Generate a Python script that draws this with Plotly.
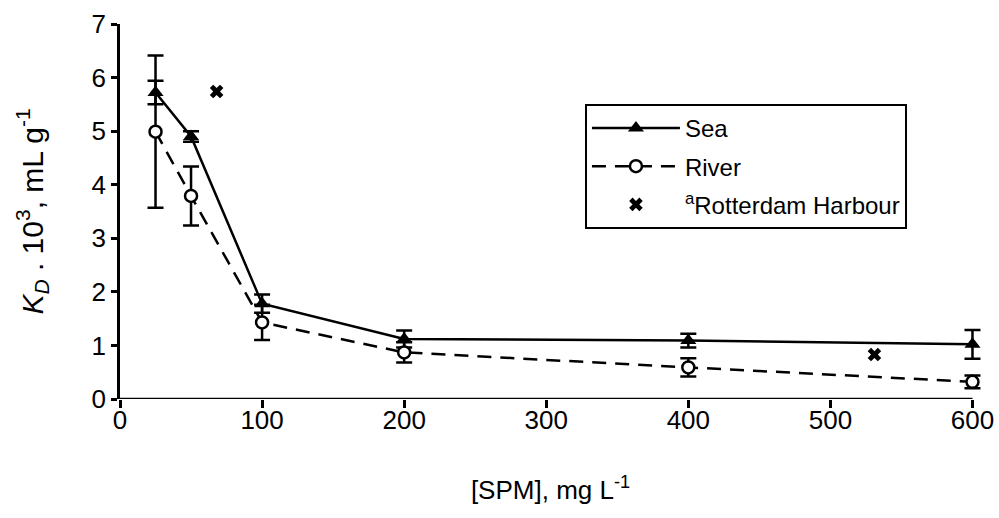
import plotly.graph_objects as go

# Suspended particulate matter concentration, mg/L
spm = [25, 50, 100, 200, 400, 600]

# Distribution coefficient K_D (x10^3 mL/g) with standard deviations
sea_kd = [5.72, 4.90, 1.78, 1.12, 1.09, 1.02]
sea_err = [0.22, 0.10, 0.17, 0.16, 0.13, 0.27]

river_kd = [4.99, 3.79, 1.43, 0.87, 0.59, 0.32]
river_err = [1.42, 0.55, 0.33, 0.19, 0.17, 0.12]

harbour_spm = [68, 531]
harbour_kd = [5.74, 0.83]

x_ticks = [0, 100, 200, 300, 400, 500, 600]
y_ticks = [0, 1, 2, 3, 4, 5, 6, 7]

FONT = "Liberation Sans, Arial, sans-serif"

fig = go.Figure()

fig.add_trace(go.Scatter(
    x=spm, y=sea_kd, name="Sea", mode="lines+markers",
    line=dict(color="black", width=2.5),
    marker=dict(symbol="triangle-up", size=14, color="black"),
    error_y=dict(type="data", array=sea_err, color="black", thickness=2.5, width=8),
    cliponaxis=False, legendgroup="a",
))

fig.add_trace(go.Scatter(
    x=spm, y=river_kd, name="River", mode="lines+markers",
    line=dict(color="black", width=2.5, dash="14px,9px"),
    marker=dict(symbol="circle", size=12, color="white",
                line=dict(color="black", width=2.5)),
    error_y=dict(type="data", array=river_err, color="black", thickness=2.5, width=8),
    cliponaxis=False, legendgroup="b",
))

fig.add_trace(go.Scatter(
    x=harbour_spm, y=harbour_kd, name="<sup>a</sup>Rotterdam Harbour", mode="markers",
    marker=dict(symbol="x", size=12, color="black"),
    cliponaxis=False, legendgroup="c",
))

# x-axis baseline ending exactly at the 600 tick (range is padded so caps at 600 show)
fig.add_shape(type="line", xref="x", yref="y", x0=0, x1=600, y0=0, y1=0,
              line=dict(color="black", width=2.5), layer="above")

fig.update_layout(
    width=999, height=518,
    paper_bgcolor="white", plot_bgcolor="white",
    margin=dict(l=120, r=18, t=24, b=119),
    font=dict(family=FONT, color="black", size=26),
    showlegend=True,
    legend=dict(
        x=0.54, y=0.787, xanchor="left", yanchor="top",
        bgcolor="white", bordercolor="black", borderwidth=2,
        font=dict(family=FONT, size=24, color="black"),
        traceorder="grouped", tracegroupgap=4,
        itemwidth=88,
    ),
)

fig.update_xaxes(
    range=[0, 606], tickvals=x_ticks, ticktext=[str(v) for v in x_ticks],
    showline=False, automargin=False,
    ticks="outside", ticklen=8, tickwidth=2.5, tickcolor="black",
    ticklabelstandoff=-10,
    showgrid=False, zeroline=False,
    tickfont=dict(family=FONT, size=26),
    title=dict(text="[SPM], mg L<sup>-1</sup>", font=dict(family=FONT, size=26), standoff=46),
)

fig.update_yaxes(
    range=[0, 7], tickvals=y_ticks, ticktext=[str(v) for v in y_ticks],
    showline=True, linecolor="black", linewidth=2.5, automargin=False,
    ticks="outside", ticklen=6, tickwidth=2.5, tickcolor="black",
    showgrid=False, zeroline=False,
    tickfont=dict(family=FONT, size=26),
    title=dict(text="<i>K</i><sub><i>D</i></sub> . 10<sup>3</sup>, mL g<sup>-1</sup>",
               font=dict(family=FONT, size=30), standoff=40),
)

fig.write_html("out.html")
